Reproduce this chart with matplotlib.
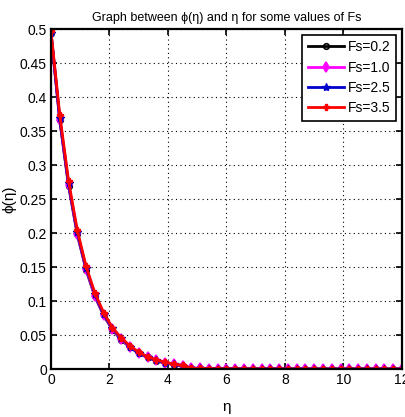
import numpy as np
import matplotlib
matplotlib.use("Agg")
import matplotlib.pyplot as plt

plt.rcParams['font.family'] = ['Liberation Sans Narrow', 'Liberation Sans', 'DejaVu Sans']

eta = [0.0, 0.3, 0.6, 0.9, 1.2, 1.5, 1.8, 2.1, 2.4, 2.7, 3.0, 3.3, 3.6, 3.9,
       4.2, 4.5, 4.8, 5.1, 5.4, 5.7, 6.0, 6.3, 6.6, 6.9, 7.2, 7.5, 7.8, 8.1,
       8.4, 8.7, 9.0, 9.3, 9.6, 9.9, 10.2, 10.5, 10.8, 11.1, 11.4, 11.7, 12.0]

tail = [0.0012, 0.0009, 0.0007, 0.0005, 0.0004, 0.0003, 0.0002, 0.0002, 0.0001,
        0.0001, 0.0001, 0.0, 0.0, 0.0, 0.0, 0.0, 0.0, 0.0, 0.0, 0.0, 0.0,
        0.0, 0.0, 0.0, 0.0]

phi_02 = [0.494, 0.366, 0.270, 0.198, 0.146, 0.107, 0.079, 0.058, 0.043,
          0.032, 0.023, 0.017, 0.012, 0.009, 0.0065, 0.0048] + tail
phi_10 = [0.494, 0.367, 0.271, 0.199, 0.147, 0.108, 0.080, 0.059, 0.044,
          0.032, 0.024, 0.017, 0.013, 0.009, 0.0068, 0.0050] + tail
phi_25 = [0.495, 0.369, 0.273, 0.201, 0.149, 0.110, 0.081, 0.060, 0.045,
          0.033, 0.024, 0.018, 0.013, 0.0095, 0.007, 0.0052] + tail
phi_35 = [0.497, 0.374, 0.277, 0.204, 0.151, 0.112, 0.083, 0.061, 0.046,
          0.034, 0.025, 0.018, 0.014, 0.010, 0.0073, 0.0054] + tail

labels = ['Fs=0.2', 'Fs=1.0', 'Fs=2.5', 'Fs=3.5']

fig = plt.figure(figsize=(4.06, 4.17), dpi=100)
ax = fig.add_axes([0.1256, 0.115, 0.8644, 0.815])

ax.plot(eta, phi_02, color='black', lw=2, marker='o', ms=4, mfc='none', mew=1.2, label=labels[0])
ax.plot(eta, phi_10, color='#ff00ff', lw=2, marker='d', ms=5, mew=1.2, label=labels[1])
ax.plot(eta, phi_25, color='#0000cc', lw=2, marker='*', ms=6, mew=1.0, label=labels[2])
ax.plot(eta, phi_35, color='red', lw=2, marker='P', ms=5, mew=1.0, label=labels[3])

ax.set_xlim(0, 12)
ax.set_ylim(0, 0.5)
ax.set_xticks(range(0, 13, 2))
ax.set_yticks(np.arange(0, 0.51, 0.05))
ax.set_yticklabels(['0', '0.05', '0.1', '0.15', '0.2', '0.25', '0.3', '0.35', '0.4', '0.45', '0.5'])
ax.tick_params(direction='in', length=4, width=1.2, labelsize=10, top=True, right=True, pad=3)
ax.grid(True, color='black', linestyle=(0, (1, 3)), linewidth=0.8)
for s in ax.spines.values():
    s.set_linewidth(1.6)

ax.set_title('Graph between \u03d5(\u03b7) and \u03b7 for some values of Fs', fontsize=9, pad=6)
ax.set_xlabel('\u03b7', fontsize=11)
ax.xaxis.set_label_coords(0.5, -0.09)
ax.set_ylabel('\u03d5(\u03b7)', fontsize=11)
ax.yaxis.set_label_coords(-0.1, 0.5)

leg = ax.legend(loc='upper right', fontsize=10, handlelength=2.6, borderpad=0.4,
                labelspacing=0.45, handletextpad=0.3, fancybox=False, framealpha=1,
                borderaxespad=0.4)
leg.get_frame().set_edgecolor('black')
leg.get_frame().set_linewidth(1.2)

fig.savefig('out.png', dpi=100)
